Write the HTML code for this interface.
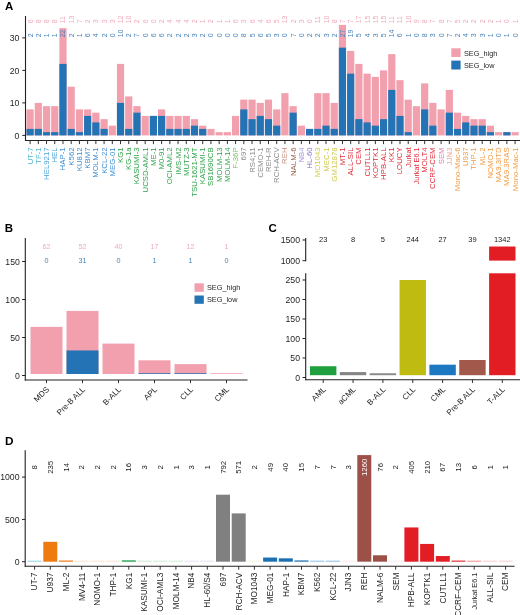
<!DOCTYPE html>
<html><head><meta charset="utf-8"><style>
html,body{margin:0;padding:0;background:#fff;}
body{width:520px;height:615px;overflow:hidden;}
svg{display:block;font-family:"Liberation Sans", sans-serif;will-change:transform;}
</style></head><body>
<svg width="520" height="615" viewBox="0 0 520 615">
<rect x="0" y="0" width="520" height="615" fill="#fff"/>
<text x="4.90" y="9.90" font-size="11.5" fill="#000" text-anchor="start" font-weight="bold">A</text>
<rect x="26.50" y="109.40" width="7.20" height="26.00" fill="#F29FAE"/>
<rect x="26.50" y="128.90" width="7.20" height="6.50" fill="#2474B5"/>
<rect x="34.72" y="102.90" width="7.20" height="32.50" fill="#F29FAE"/>
<rect x="34.72" y="128.90" width="7.20" height="6.50" fill="#2474B5"/>
<rect x="42.94" y="106.15" width="7.20" height="29.25" fill="#F29FAE"/>
<rect x="42.94" y="132.15" width="7.20" height="3.25" fill="#2474B5"/>
<rect x="51.16" y="106.15" width="7.20" height="29.25" fill="#F29FAE"/>
<rect x="51.16" y="132.15" width="7.20" height="3.25" fill="#2474B5"/>
<rect x="59.38" y="28.15" width="7.20" height="107.25" fill="#F29FAE"/>
<rect x="59.38" y="63.90" width="7.20" height="71.50" fill="#2474B5"/>
<rect x="67.60" y="86.65" width="7.20" height="48.75" fill="#F29FAE"/>
<rect x="67.60" y="128.90" width="7.20" height="6.50" fill="#2474B5"/>
<rect x="75.82" y="109.40" width="7.20" height="26.00" fill="#F29FAE"/>
<rect x="75.82" y="132.15" width="7.20" height="3.25" fill="#2474B5"/>
<rect x="84.04" y="109.40" width="7.20" height="26.00" fill="#F29FAE"/>
<rect x="84.04" y="115.90" width="7.20" height="19.50" fill="#2474B5"/>
<rect x="92.26" y="112.65" width="7.20" height="22.75" fill="#F29FAE"/>
<rect x="92.26" y="122.40" width="7.20" height="13.00" fill="#2474B5"/>
<rect x="100.48" y="119.15" width="7.20" height="16.25" fill="#F29FAE"/>
<rect x="100.48" y="128.90" width="7.20" height="6.50" fill="#2474B5"/>
<rect x="108.70" y="125.65" width="7.20" height="9.75" fill="#F29FAE"/>
<rect x="116.92" y="63.90" width="7.20" height="71.50" fill="#F29FAE"/>
<rect x="116.92" y="102.90" width="7.20" height="32.50" fill="#2474B5"/>
<rect x="125.14" y="96.40" width="7.20" height="39.00" fill="#F29FAE"/>
<rect x="125.14" y="128.90" width="7.20" height="6.50" fill="#2474B5"/>
<rect x="133.36" y="106.15" width="7.20" height="29.25" fill="#F29FAE"/>
<rect x="133.36" y="112.65" width="7.20" height="22.75" fill="#2474B5"/>
<rect x="141.58" y="115.90" width="7.20" height="19.50" fill="#F29FAE"/>
<rect x="149.80" y="115.90" width="7.20" height="19.50" fill="#F29FAE"/>
<rect x="149.80" y="115.90" width="7.20" height="19.50" fill="#2474B5"/>
<rect x="158.02" y="109.40" width="7.20" height="26.00" fill="#F29FAE"/>
<rect x="158.02" y="115.90" width="7.20" height="19.50" fill="#2474B5"/>
<rect x="166.24" y="115.90" width="7.20" height="19.50" fill="#F29FAE"/>
<rect x="166.24" y="128.90" width="7.20" height="6.50" fill="#2474B5"/>
<rect x="174.46" y="115.90" width="7.20" height="19.50" fill="#F29FAE"/>
<rect x="174.46" y="128.90" width="7.20" height="6.50" fill="#2474B5"/>
<rect x="182.68" y="115.90" width="7.20" height="19.50" fill="#F29FAE"/>
<rect x="182.68" y="128.90" width="7.20" height="6.50" fill="#2474B5"/>
<rect x="190.90" y="119.15" width="7.20" height="16.25" fill="#F29FAE"/>
<rect x="190.90" y="125.65" width="7.20" height="9.75" fill="#2474B5"/>
<rect x="199.12" y="125.65" width="7.20" height="9.75" fill="#F29FAE"/>
<rect x="199.12" y="128.90" width="7.20" height="6.50" fill="#2474B5"/>
<rect x="207.34" y="128.90" width="7.20" height="6.50" fill="#F29FAE"/>
<rect x="215.56" y="132.15" width="7.20" height="3.25" fill="#F29FAE"/>
<rect x="223.78" y="132.15" width="7.20" height="3.25" fill="#F29FAE"/>
<rect x="232.00" y="115.90" width="7.20" height="19.50" fill="#F29FAE"/>
<rect x="240.22" y="99.65" width="7.20" height="35.75" fill="#F29FAE"/>
<rect x="240.22" y="109.40" width="7.20" height="26.00" fill="#2474B5"/>
<rect x="248.44" y="99.65" width="7.20" height="35.75" fill="#F29FAE"/>
<rect x="248.44" y="119.15" width="7.20" height="16.25" fill="#2474B5"/>
<rect x="256.66" y="102.90" width="7.20" height="32.50" fill="#F29FAE"/>
<rect x="256.66" y="115.90" width="7.20" height="19.50" fill="#2474B5"/>
<rect x="264.88" y="99.65" width="7.20" height="35.75" fill="#F29FAE"/>
<rect x="264.88" y="119.15" width="7.20" height="16.25" fill="#2474B5"/>
<rect x="273.10" y="109.40" width="7.20" height="26.00" fill="#F29FAE"/>
<rect x="273.10" y="125.65" width="7.20" height="9.75" fill="#2474B5"/>
<rect x="281.32" y="93.15" width="7.20" height="42.25" fill="#F29FAE"/>
<rect x="289.54" y="106.15" width="7.20" height="29.25" fill="#F29FAE"/>
<rect x="289.54" y="112.65" width="7.20" height="22.75" fill="#2474B5"/>
<rect x="297.76" y="125.65" width="7.20" height="9.75" fill="#F29FAE"/>
<rect x="305.98" y="128.90" width="7.20" height="6.50" fill="#F29FAE"/>
<rect x="305.98" y="128.90" width="7.20" height="6.50" fill="#2474B5"/>
<rect x="314.20" y="93.15" width="7.20" height="42.25" fill="#F29FAE"/>
<rect x="314.20" y="128.90" width="7.20" height="6.50" fill="#2474B5"/>
<rect x="322.42" y="93.15" width="7.20" height="42.25" fill="#F29FAE"/>
<rect x="322.42" y="125.65" width="7.20" height="9.75" fill="#2474B5"/>
<rect x="330.64" y="102.90" width="7.20" height="32.50" fill="#F29FAE"/>
<rect x="330.64" y="128.90" width="7.20" height="6.50" fill="#2474B5"/>
<rect x="338.86" y="24.90" width="7.20" height="110.50" fill="#F29FAE"/>
<rect x="338.86" y="47.65" width="7.20" height="87.75" fill="#2474B5"/>
<rect x="347.08" y="50.90" width="7.20" height="84.50" fill="#F29FAE"/>
<rect x="347.08" y="73.65" width="7.20" height="61.75" fill="#2474B5"/>
<rect x="355.30" y="63.90" width="7.20" height="71.50" fill="#F29FAE"/>
<rect x="355.30" y="119.15" width="7.20" height="16.25" fill="#2474B5"/>
<rect x="363.52" y="73.65" width="7.20" height="61.75" fill="#F29FAE"/>
<rect x="363.52" y="122.40" width="7.20" height="13.00" fill="#2474B5"/>
<rect x="371.74" y="76.90" width="7.20" height="58.50" fill="#F29FAE"/>
<rect x="371.74" y="125.65" width="7.20" height="9.75" fill="#2474B5"/>
<rect x="379.96" y="70.40" width="7.20" height="65.00" fill="#F29FAE"/>
<rect x="379.96" y="119.15" width="7.20" height="16.25" fill="#2474B5"/>
<rect x="388.18" y="54.15" width="7.20" height="81.25" fill="#F29FAE"/>
<rect x="388.18" y="89.90" width="7.20" height="45.50" fill="#2474B5"/>
<rect x="396.40" y="80.15" width="7.20" height="55.25" fill="#F29FAE"/>
<rect x="396.40" y="115.90" width="7.20" height="19.50" fill="#2474B5"/>
<rect x="404.62" y="99.65" width="7.20" height="35.75" fill="#F29FAE"/>
<rect x="404.62" y="132.15" width="7.20" height="3.25" fill="#2474B5"/>
<rect x="412.84" y="106.15" width="7.20" height="29.25" fill="#F29FAE"/>
<rect x="421.06" y="83.40" width="7.20" height="52.00" fill="#F29FAE"/>
<rect x="421.06" y="109.40" width="7.20" height="26.00" fill="#2474B5"/>
<rect x="429.28" y="102.90" width="7.20" height="32.50" fill="#F29FAE"/>
<rect x="429.28" y="125.65" width="7.20" height="9.75" fill="#2474B5"/>
<rect x="437.50" y="109.40" width="7.20" height="26.00" fill="#F29FAE"/>
<rect x="445.72" y="89.90" width="7.20" height="45.50" fill="#F29FAE"/>
<rect x="445.72" y="112.65" width="7.20" height="22.75" fill="#2474B5"/>
<rect x="453.94" y="112.65" width="7.20" height="22.75" fill="#F29FAE"/>
<rect x="453.94" y="128.90" width="7.20" height="6.50" fill="#2474B5"/>
<rect x="462.16" y="115.90" width="7.20" height="19.50" fill="#F29FAE"/>
<rect x="462.16" y="122.40" width="7.20" height="13.00" fill="#2474B5"/>
<rect x="470.38" y="119.15" width="7.20" height="16.25" fill="#F29FAE"/>
<rect x="470.38" y="125.65" width="7.20" height="9.75" fill="#2474B5"/>
<rect x="478.60" y="119.15" width="7.20" height="16.25" fill="#F29FAE"/>
<rect x="478.60" y="125.65" width="7.20" height="9.75" fill="#2474B5"/>
<rect x="486.82" y="125.65" width="7.20" height="9.75" fill="#F29FAE"/>
<rect x="486.82" y="132.15" width="7.20" height="3.25" fill="#2474B5"/>
<rect x="495.04" y="132.15" width="7.20" height="3.25" fill="#F29FAE"/>
<rect x="503.26" y="132.15" width="7.20" height="3.25" fill="#F29FAE"/>
<rect x="503.26" y="132.15" width="7.20" height="3.25" fill="#2474B5"/>
<rect x="511.48" y="132.15" width="7.20" height="3.25" fill="#F29FAE"/>
<text x="32.60" y="23.30" font-size="7.0" fill="#F0AABA" text-anchor="start" transform="rotate(-90 32.60 23.30)">6</text>
<text x="32.60" y="37.30" font-size="7.0" fill="#4682BA" text-anchor="start" transform="rotate(-90 32.60 37.30)">2</text>
<text x="40.82" y="23.30" font-size="7.0" fill="#F0AABA" text-anchor="start" transform="rotate(-90 40.82 23.30)">8</text>
<text x="40.82" y="37.30" font-size="7.0" fill="#4682BA" text-anchor="start" transform="rotate(-90 40.82 37.30)">2</text>
<text x="49.04" y="23.30" font-size="7.0" fill="#F0AABA" text-anchor="start" transform="rotate(-90 49.04 23.30)">8</text>
<text x="49.04" y="37.30" font-size="7.0" fill="#4682BA" text-anchor="start" transform="rotate(-90 49.04 37.30)">1</text>
<text x="57.26" y="23.30" font-size="7.0" fill="#F0AABA" text-anchor="start" transform="rotate(-90 57.26 23.30)">8</text>
<text x="57.26" y="37.30" font-size="7.0" fill="#4682BA" text-anchor="start" transform="rotate(-90 57.26 37.30)">1</text>
<text x="65.48" y="23.30" font-size="7.0" fill="#F0AABA" text-anchor="start" transform="rotate(-90 65.48 23.30)">11</text>
<text x="65.48" y="37.30" font-size="7.0" fill="#4682BA" text-anchor="start" transform="rotate(-90 65.48 37.30)">22</text>
<text x="73.70" y="23.30" font-size="7.0" fill="#F0AABA" text-anchor="start" transform="rotate(-90 73.70 23.30)">13</text>
<text x="73.70" y="37.30" font-size="7.0" fill="#4682BA" text-anchor="start" transform="rotate(-90 73.70 37.30)">2</text>
<text x="81.92" y="23.30" font-size="7.0" fill="#F0AABA" text-anchor="start" transform="rotate(-90 81.92 23.30)">7</text>
<text x="81.92" y="37.30" font-size="7.0" fill="#4682BA" text-anchor="start" transform="rotate(-90 81.92 37.30)">1</text>
<text x="90.14" y="23.30" font-size="7.0" fill="#F0AABA" text-anchor="start" transform="rotate(-90 90.14 23.30)">2</text>
<text x="90.14" y="37.30" font-size="7.0" fill="#4682BA" text-anchor="start" transform="rotate(-90 90.14 37.30)">6</text>
<text x="98.36" y="23.30" font-size="7.0" fill="#F0AABA" text-anchor="start" transform="rotate(-90 98.36 23.30)">3</text>
<text x="98.36" y="37.30" font-size="7.0" fill="#4682BA" text-anchor="start" transform="rotate(-90 98.36 37.30)">4</text>
<text x="106.58" y="23.30" font-size="7.0" fill="#F0AABA" text-anchor="start" transform="rotate(-90 106.58 23.30)">3</text>
<text x="106.58" y="37.30" font-size="7.0" fill="#4682BA" text-anchor="start" transform="rotate(-90 106.58 37.30)">2</text>
<text x="114.80" y="23.30" font-size="7.0" fill="#F0AABA" text-anchor="start" transform="rotate(-90 114.80 23.30)">3</text>
<text x="114.80" y="37.30" font-size="7.0" fill="#4682BA" text-anchor="start" transform="rotate(-90 114.80 37.30)">0</text>
<text x="123.02" y="23.30" font-size="7.0" fill="#F0AABA" text-anchor="start" transform="rotate(-90 123.02 23.30)">12</text>
<text x="123.02" y="37.30" font-size="7.0" fill="#4682BA" text-anchor="start" transform="rotate(-90 123.02 37.30)">10</text>
<text x="131.24" y="23.30" font-size="7.0" fill="#F0AABA" text-anchor="start" transform="rotate(-90 131.24 23.30)">10</text>
<text x="131.24" y="37.30" font-size="7.0" fill="#4682BA" text-anchor="start" transform="rotate(-90 131.24 37.30)">2</text>
<text x="139.46" y="23.30" font-size="7.0" fill="#F0AABA" text-anchor="start" transform="rotate(-90 139.46 23.30)">2</text>
<text x="139.46" y="37.30" font-size="7.0" fill="#4682BA" text-anchor="start" transform="rotate(-90 139.46 37.30)">7</text>
<text x="147.68" y="23.30" font-size="7.0" fill="#F0AABA" text-anchor="start" transform="rotate(-90 147.68 23.30)">6</text>
<text x="147.68" y="37.30" font-size="7.0" fill="#4682BA" text-anchor="start" transform="rotate(-90 147.68 37.30)">0</text>
<text x="155.90" y="23.30" font-size="7.0" fill="#F0AABA" text-anchor="start" transform="rotate(-90 155.90 23.30)">0</text>
<text x="155.90" y="37.30" font-size="7.0" fill="#4682BA" text-anchor="start" transform="rotate(-90 155.90 37.30)">6</text>
<text x="164.12" y="23.30" font-size="7.0" fill="#F0AABA" text-anchor="start" transform="rotate(-90 164.12 23.30)">2</text>
<text x="164.12" y="37.30" font-size="7.0" fill="#4682BA" text-anchor="start" transform="rotate(-90 164.12 37.30)">6</text>
<text x="172.34" y="23.30" font-size="7.0" fill="#F0AABA" text-anchor="start" transform="rotate(-90 172.34 23.30)">4</text>
<text x="172.34" y="37.30" font-size="7.0" fill="#4682BA" text-anchor="start" transform="rotate(-90 172.34 37.30)">2</text>
<text x="180.56" y="23.30" font-size="7.0" fill="#F0AABA" text-anchor="start" transform="rotate(-90 180.56 23.30)">4</text>
<text x="180.56" y="37.30" font-size="7.0" fill="#4682BA" text-anchor="start" transform="rotate(-90 180.56 37.30)">2</text>
<text x="188.78" y="23.30" font-size="7.0" fill="#F0AABA" text-anchor="start" transform="rotate(-90 188.78 23.30)">4</text>
<text x="188.78" y="37.30" font-size="7.0" fill="#4682BA" text-anchor="start" transform="rotate(-90 188.78 37.30)">2</text>
<text x="197.00" y="23.30" font-size="7.0" fill="#F0AABA" text-anchor="start" transform="rotate(-90 197.00 23.30)">2</text>
<text x="197.00" y="37.30" font-size="7.0" fill="#4682BA" text-anchor="start" transform="rotate(-90 197.00 37.30)">3</text>
<text x="205.22" y="23.30" font-size="7.0" fill="#F0AABA" text-anchor="start" transform="rotate(-90 205.22 23.30)">1</text>
<text x="205.22" y="37.30" font-size="7.0" fill="#4682BA" text-anchor="start" transform="rotate(-90 205.22 37.30)">2</text>
<text x="213.44" y="23.30" font-size="7.0" fill="#F0AABA" text-anchor="start" transform="rotate(-90 213.44 23.30)">2</text>
<text x="213.44" y="37.30" font-size="7.0" fill="#4682BA" text-anchor="start" transform="rotate(-90 213.44 37.30)">0</text>
<text x="221.66" y="23.30" font-size="7.0" fill="#F0AABA" text-anchor="start" transform="rotate(-90 221.66 23.30)">1</text>
<text x="221.66" y="37.30" font-size="7.0" fill="#4682BA" text-anchor="start" transform="rotate(-90 221.66 37.30)">0</text>
<text x="229.88" y="23.30" font-size="7.0" fill="#F0AABA" text-anchor="start" transform="rotate(-90 229.88 23.30)">1</text>
<text x="229.88" y="37.30" font-size="7.0" fill="#4682BA" text-anchor="start" transform="rotate(-90 229.88 37.30)">0</text>
<text x="238.10" y="23.30" font-size="7.0" fill="#F0AABA" text-anchor="start" transform="rotate(-90 238.10 23.30)">6</text>
<text x="238.10" y="37.30" font-size="7.0" fill="#4682BA" text-anchor="start" transform="rotate(-90 238.10 37.30)">0</text>
<text x="246.32" y="23.30" font-size="7.0" fill="#F0AABA" text-anchor="start" transform="rotate(-90 246.32 23.30)">3</text>
<text x="246.32" y="37.30" font-size="7.0" fill="#4682BA" text-anchor="start" transform="rotate(-90 246.32 37.30)">8</text>
<text x="254.54" y="23.30" font-size="7.0" fill="#F0AABA" text-anchor="start" transform="rotate(-90 254.54 23.30)">6</text>
<text x="254.54" y="37.30" font-size="7.0" fill="#4682BA" text-anchor="start" transform="rotate(-90 254.54 37.30)">5</text>
<text x="262.76" y="23.30" font-size="7.0" fill="#F0AABA" text-anchor="start" transform="rotate(-90 262.76 23.30)">4</text>
<text x="262.76" y="37.30" font-size="7.0" fill="#4682BA" text-anchor="start" transform="rotate(-90 262.76 37.30)">6</text>
<text x="270.98" y="23.30" font-size="7.0" fill="#F0AABA" text-anchor="start" transform="rotate(-90 270.98 23.30)">6</text>
<text x="270.98" y="37.30" font-size="7.0" fill="#4682BA" text-anchor="start" transform="rotate(-90 270.98 37.30)">5</text>
<text x="279.20" y="23.30" font-size="7.0" fill="#F0AABA" text-anchor="start" transform="rotate(-90 279.20 23.30)">5</text>
<text x="279.20" y="37.30" font-size="7.0" fill="#4682BA" text-anchor="start" transform="rotate(-90 279.20 37.30)">3</text>
<text x="287.42" y="23.30" font-size="7.0" fill="#F0AABA" text-anchor="start" transform="rotate(-90 287.42 23.30)">13</text>
<text x="287.42" y="37.30" font-size="7.0" fill="#4682BA" text-anchor="start" transform="rotate(-90 287.42 37.30)">0</text>
<text x="295.64" y="23.30" font-size="7.0" fill="#F0AABA" text-anchor="start" transform="rotate(-90 295.64 23.30)">2</text>
<text x="295.64" y="37.30" font-size="7.0" fill="#4682BA" text-anchor="start" transform="rotate(-90 295.64 37.30)">7</text>
<text x="303.86" y="23.30" font-size="7.0" fill="#F0AABA" text-anchor="start" transform="rotate(-90 303.86 23.30)">3</text>
<text x="303.86" y="37.30" font-size="7.0" fill="#4682BA" text-anchor="start" transform="rotate(-90 303.86 37.30)">0</text>
<text x="312.08" y="23.30" font-size="7.0" fill="#F0AABA" text-anchor="start" transform="rotate(-90 312.08 23.30)">0</text>
<text x="312.08" y="37.30" font-size="7.0" fill="#4682BA" text-anchor="start" transform="rotate(-90 312.08 37.30)">2</text>
<text x="320.30" y="23.30" font-size="7.0" fill="#F0AABA" text-anchor="start" transform="rotate(-90 320.30 23.30)">11</text>
<text x="320.30" y="37.30" font-size="7.0" fill="#4682BA" text-anchor="start" transform="rotate(-90 320.30 37.30)">2</text>
<text x="328.52" y="23.30" font-size="7.0" fill="#F0AABA" text-anchor="start" transform="rotate(-90 328.52 23.30)">10</text>
<text x="328.52" y="37.30" font-size="7.0" fill="#4682BA" text-anchor="start" transform="rotate(-90 328.52 37.30)">3</text>
<text x="336.74" y="23.30" font-size="7.0" fill="#F0AABA" text-anchor="start" transform="rotate(-90 336.74 23.30)">8</text>
<text x="336.74" y="37.30" font-size="7.0" fill="#4682BA" text-anchor="start" transform="rotate(-90 336.74 37.30)">2</text>
<text x="344.96" y="23.30" font-size="7.0" fill="#F0AABA" text-anchor="start" transform="rotate(-90 344.96 23.30)">7</text>
<text x="344.96" y="37.30" font-size="7.0" fill="#4682BA" text-anchor="start" transform="rotate(-90 344.96 37.30)">27</text>
<text x="353.18" y="23.30" font-size="7.0" fill="#F0AABA" text-anchor="start" transform="rotate(-90 353.18 23.30)">7</text>
<text x="353.18" y="37.30" font-size="7.0" fill="#4682BA" text-anchor="start" transform="rotate(-90 353.18 37.30)">19</text>
<text x="361.40" y="23.30" font-size="7.0" fill="#F0AABA" text-anchor="start" transform="rotate(-90 361.40 23.30)">17</text>
<text x="361.40" y="37.30" font-size="7.0" fill="#4682BA" text-anchor="start" transform="rotate(-90 361.40 37.30)">5</text>
<text x="369.62" y="23.30" font-size="7.0" fill="#F0AABA" text-anchor="start" transform="rotate(-90 369.62 23.30)">15</text>
<text x="369.62" y="37.30" font-size="7.0" fill="#4682BA" text-anchor="start" transform="rotate(-90 369.62 37.30)">4</text>
<text x="377.84" y="23.30" font-size="7.0" fill="#F0AABA" text-anchor="start" transform="rotate(-90 377.84 23.30)">15</text>
<text x="377.84" y="37.30" font-size="7.0" fill="#4682BA" text-anchor="start" transform="rotate(-90 377.84 37.30)">3</text>
<text x="386.06" y="23.30" font-size="7.0" fill="#F0AABA" text-anchor="start" transform="rotate(-90 386.06 23.30)">15</text>
<text x="386.06" y="37.30" font-size="7.0" fill="#4682BA" text-anchor="start" transform="rotate(-90 386.06 37.30)">5</text>
<text x="394.28" y="23.30" font-size="7.0" fill="#F0AABA" text-anchor="start" transform="rotate(-90 394.28 23.30)">11</text>
<text x="394.28" y="37.30" font-size="7.0" fill="#4682BA" text-anchor="start" transform="rotate(-90 394.28 37.30)">14</text>
<text x="402.50" y="23.30" font-size="7.0" fill="#F0AABA" text-anchor="start" transform="rotate(-90 402.50 23.30)">11</text>
<text x="402.50" y="37.30" font-size="7.0" fill="#4682BA" text-anchor="start" transform="rotate(-90 402.50 37.30)">6</text>
<text x="410.72" y="23.30" font-size="7.0" fill="#F0AABA" text-anchor="start" transform="rotate(-90 410.72 23.30)">10</text>
<text x="410.72" y="37.30" font-size="7.0" fill="#4682BA" text-anchor="start" transform="rotate(-90 410.72 37.30)">1</text>
<text x="418.94" y="23.30" font-size="7.0" fill="#F0AABA" text-anchor="start" transform="rotate(-90 418.94 23.30)">9</text>
<text x="418.94" y="37.30" font-size="7.0" fill="#4682BA" text-anchor="start" transform="rotate(-90 418.94 37.30)">0</text>
<text x="427.16" y="23.30" font-size="7.0" fill="#F0AABA" text-anchor="start" transform="rotate(-90 427.16 23.30)">8</text>
<text x="427.16" y="37.30" font-size="7.0" fill="#4682BA" text-anchor="start" transform="rotate(-90 427.16 37.30)">8</text>
<text x="435.38" y="23.30" font-size="7.0" fill="#F0AABA" text-anchor="start" transform="rotate(-90 435.38 23.30)">7</text>
<text x="435.38" y="37.30" font-size="7.0" fill="#4682BA" text-anchor="start" transform="rotate(-90 435.38 37.30)">3</text>
<text x="443.60" y="23.30" font-size="7.0" fill="#F0AABA" text-anchor="start" transform="rotate(-90 443.60 23.30)">8</text>
<text x="443.60" y="37.30" font-size="7.0" fill="#4682BA" text-anchor="start" transform="rotate(-90 443.60 37.30)">0</text>
<text x="451.82" y="23.30" font-size="7.0" fill="#F0AABA" text-anchor="start" transform="rotate(-90 451.82 23.30)">7</text>
<text x="451.82" y="37.30" font-size="7.0" fill="#4682BA" text-anchor="start" transform="rotate(-90 451.82 37.30)">7</text>
<text x="460.04" y="23.30" font-size="7.0" fill="#F0AABA" text-anchor="start" transform="rotate(-90 460.04 23.30)">5</text>
<text x="460.04" y="37.30" font-size="7.0" fill="#4682BA" text-anchor="start" transform="rotate(-90 460.04 37.30)">2</text>
<text x="468.26" y="23.30" font-size="7.0" fill="#F0AABA" text-anchor="start" transform="rotate(-90 468.26 23.30)">2</text>
<text x="468.26" y="37.30" font-size="7.0" fill="#4682BA" text-anchor="start" transform="rotate(-90 468.26 37.30)">4</text>
<text x="476.48" y="23.30" font-size="7.0" fill="#F0AABA" text-anchor="start" transform="rotate(-90 476.48 23.30)">2</text>
<text x="476.48" y="37.30" font-size="7.0" fill="#4682BA" text-anchor="start" transform="rotate(-90 476.48 37.30)">3</text>
<text x="484.70" y="23.30" font-size="7.0" fill="#F0AABA" text-anchor="start" transform="rotate(-90 484.70 23.30)">2</text>
<text x="484.70" y="37.30" font-size="7.0" fill="#4682BA" text-anchor="start" transform="rotate(-90 484.70 37.30)">3</text>
<text x="492.92" y="23.30" font-size="7.0" fill="#F0AABA" text-anchor="start" transform="rotate(-90 492.92 23.30)">2</text>
<text x="492.92" y="37.30" font-size="7.0" fill="#4682BA" text-anchor="start" transform="rotate(-90 492.92 37.30)">1</text>
<text x="501.14" y="23.30" font-size="7.0" fill="#F0AABA" text-anchor="start" transform="rotate(-90 501.14 23.30)">1</text>
<text x="501.14" y="37.30" font-size="7.0" fill="#4682BA" text-anchor="start" transform="rotate(-90 501.14 37.30)">0</text>
<text x="509.36" y="23.30" font-size="7.0" fill="#F0AABA" text-anchor="start" transform="rotate(-90 509.36 23.30)">0</text>
<text x="509.36" y="37.30" font-size="7.0" fill="#4682BA" text-anchor="start" transform="rotate(-90 509.36 37.30)">1</text>
<text x="517.58" y="23.30" font-size="7.0" fill="#F0AABA" text-anchor="start" transform="rotate(-90 517.58 23.30)">1</text>
<text x="517.58" y="37.30" font-size="7.0" fill="#4682BA" text-anchor="start" transform="rotate(-90 517.58 37.30)">0</text>
<line x1="25.50" y1="16.00" x2="25.50" y2="141.00" stroke="#222" stroke-width="1.1"/>
<line x1="25.00" y1="140.50" x2="520.00" y2="140.50" stroke="#222" stroke-width="1.1"/>
<line x1="22.30" y1="135.40" x2="25.50" y2="135.40" stroke="#222" stroke-width="1.0"/>
<text x="19.30" y="138.50" font-size="8.7" fill="#262626" text-anchor="end">0</text>
<line x1="22.30" y1="102.90" x2="25.50" y2="102.90" stroke="#222" stroke-width="1.0"/>
<text x="19.30" y="106.00" font-size="8.7" fill="#262626" text-anchor="end">10</text>
<line x1="22.30" y1="70.40" x2="25.50" y2="70.40" stroke="#222" stroke-width="1.0"/>
<text x="19.30" y="73.50" font-size="8.7" fill="#262626" text-anchor="end">20</text>
<line x1="22.30" y1="37.90" x2="25.50" y2="37.90" stroke="#222" stroke-width="1.0"/>
<text x="19.30" y="41.00" font-size="8.7" fill="#262626" text-anchor="end">30</text>
<line x1="30.10" y1="140.50" x2="30.10" y2="144.10" stroke="#333" stroke-width="1.0"/>
<text x="32.60" y="147.40" font-size="7.8" fill="#4DB8D2" text-anchor="end" transform="rotate(-90 32.60 147.40)">UT-7</text>
<line x1="38.32" y1="140.50" x2="38.32" y2="144.10" stroke="#333" stroke-width="1.0"/>
<text x="40.82" y="147.40" font-size="7.8" fill="#4DB8D2" text-anchor="end" transform="rotate(-90 40.82 147.40)">TF-1</text>
<line x1="46.54" y1="140.50" x2="46.54" y2="144.10" stroke="#333" stroke-width="1.0"/>
<text x="49.04" y="147.40" font-size="7.8" fill="#4AA4DA" text-anchor="end" transform="rotate(-90 49.04 147.40)">HEL9217</text>
<line x1="54.76" y1="140.50" x2="54.76" y2="144.10" stroke="#333" stroke-width="1.0"/>
<text x="57.26" y="147.40" font-size="7.8" fill="#4AA4DA" text-anchor="end" transform="rotate(-90 57.26 147.40)">HEL</text>
<line x1="62.98" y1="140.50" x2="62.98" y2="144.10" stroke="#333" stroke-width="1.0"/>
<text x="65.48" y="147.40" font-size="7.8" fill="#3A8ED4" text-anchor="end" transform="rotate(-90 65.48 147.40)">HAP-1</text>
<line x1="71.20" y1="140.50" x2="71.20" y2="144.10" stroke="#333" stroke-width="1.0"/>
<text x="73.70" y="147.40" font-size="7.8" fill="#3A8ED4" text-anchor="end" transform="rotate(-90 73.70 147.40)">K562</text>
<line x1="79.42" y1="140.50" x2="79.42" y2="144.10" stroke="#333" stroke-width="1.0"/>
<text x="81.92" y="147.40" font-size="7.8" fill="#3A8ED4" text-anchor="end" transform="rotate(-90 81.92 147.40)">KU812</text>
<line x1="87.64" y1="140.50" x2="87.64" y2="144.10" stroke="#333" stroke-width="1.0"/>
<text x="90.14" y="147.40" font-size="7.8" fill="#3A8ED4" text-anchor="end" transform="rotate(-90 90.14 147.40)">KBM7</text>
<line x1="95.86" y1="140.50" x2="95.86" y2="144.10" stroke="#333" stroke-width="1.0"/>
<text x="98.36" y="147.40" font-size="7.8" fill="#3A8ED4" text-anchor="end" transform="rotate(-90 98.36 147.40)">MOLM-1</text>
<line x1="104.08" y1="140.50" x2="104.08" y2="144.10" stroke="#333" stroke-width="1.0"/>
<text x="106.58" y="147.40" font-size="7.8" fill="#3A8ED4" text-anchor="end" transform="rotate(-90 106.58 147.40)">KCL-22</text>
<line x1="112.30" y1="140.50" x2="112.30" y2="144.10" stroke="#333" stroke-width="1.0"/>
<text x="114.80" y="147.40" font-size="7.8" fill="#3A8ED4" text-anchor="end" transform="rotate(-90 114.80 147.40)">MEG-01</text>
<line x1="120.52" y1="140.50" x2="120.52" y2="144.10" stroke="#333" stroke-width="1.0"/>
<text x="123.02" y="147.40" font-size="7.8" fill="#2EA24A" text-anchor="end" transform="rotate(-90 123.02 147.40)">KG1</text>
<line x1="128.74" y1="140.50" x2="128.74" y2="144.10" stroke="#333" stroke-width="1.0"/>
<text x="131.24" y="147.40" font-size="7.8" fill="#2EA24A" text-anchor="end" transform="rotate(-90 131.24 147.40)">KG-1a</text>
<line x1="136.96" y1="140.50" x2="136.96" y2="144.10" stroke="#333" stroke-width="1.0"/>
<text x="139.46" y="147.40" font-size="7.8" fill="#2EA24A" text-anchor="end" transform="rotate(-90 139.46 147.40)">KASUMI-3</text>
<line x1="145.18" y1="140.50" x2="145.18" y2="144.10" stroke="#333" stroke-width="1.0"/>
<text x="147.68" y="147.40" font-size="7.8" fill="#2EA24A" text-anchor="end" transform="rotate(-90 147.68 147.40)">UCSD-AML1</text>
<line x1="153.40" y1="140.50" x2="153.40" y2="144.10" stroke="#333" stroke-width="1.0"/>
<text x="155.90" y="147.40" font-size="7.8" fill="#2EA24A" text-anchor="end" transform="rotate(-90 155.90 147.40)">ME-1</text>
<line x1="161.62" y1="140.50" x2="161.62" y2="144.10" stroke="#333" stroke-width="1.0"/>
<text x="164.12" y="147.40" font-size="7.8" fill="#2EA24A" text-anchor="end" transform="rotate(-90 164.12 147.40)">M0-91</text>
<line x1="169.84" y1="140.50" x2="169.84" y2="144.10" stroke="#333" stroke-width="1.0"/>
<text x="172.34" y="147.40" font-size="7.8" fill="#2EA24A" text-anchor="end" transform="rotate(-90 172.34 147.40)">OCI-AML2</text>
<line x1="178.06" y1="140.50" x2="178.06" y2="144.10" stroke="#333" stroke-width="1.0"/>
<text x="180.56" y="147.40" font-size="7.8" fill="#2EA24A" text-anchor="end" transform="rotate(-90 180.56 147.40)">IMS-M2</text>
<line x1="186.28" y1="140.50" x2="186.28" y2="144.10" stroke="#333" stroke-width="1.0"/>
<text x="188.78" y="147.40" font-size="7.8" fill="#2EA24A" text-anchor="end" transform="rotate(-90 188.78 147.40)">MUTZ-3</text>
<line x1="194.50" y1="140.50" x2="194.50" y2="144.10" stroke="#333" stroke-width="1.0"/>
<text x="197.00" y="147.40" font-size="7.8" fill="#2EA24A" text-anchor="end" transform="rotate(-90 197.00 147.40)">TSU-1621-MT</text>
<line x1="202.72" y1="140.50" x2="202.72" y2="144.10" stroke="#333" stroke-width="1.0"/>
<text x="205.22" y="147.40" font-size="7.8" fill="#2EA24A" text-anchor="end" transform="rotate(-90 205.22 147.40)">KASUMI-1</text>
<line x1="210.94" y1="140.50" x2="210.94" y2="144.10" stroke="#333" stroke-width="1.0"/>
<text x="213.44" y="147.40" font-size="7.8" fill="#2EA24A" text-anchor="end" transform="rotate(-90 213.44 147.40)">SB1690CB</text>
<line x1="219.16" y1="140.50" x2="219.16" y2="144.10" stroke="#333" stroke-width="1.0"/>
<text x="221.66" y="147.40" font-size="7.8" fill="#2EA24A" text-anchor="end" transform="rotate(-90 221.66 147.40)">MOLM-13</text>
<line x1="227.38" y1="140.50" x2="227.38" y2="144.10" stroke="#333" stroke-width="1.0"/>
<text x="229.88" y="147.40" font-size="7.8" fill="#2EA24A" text-anchor="end" transform="rotate(-90 229.88 147.40)">MOLM-14</text>
<line x1="235.60" y1="140.50" x2="235.60" y2="144.10" stroke="#333" stroke-width="1.0"/>
<text x="238.10" y="147.40" font-size="7.8" fill="#7CC464" text-anchor="end" transform="rotate(-90 238.10 147.40)">F-36P</text>
<line x1="243.82" y1="140.50" x2="243.82" y2="144.10" stroke="#333" stroke-width="1.0"/>
<text x="246.32" y="147.40" font-size="7.8" fill="#8A8A8A" text-anchor="end" transform="rotate(-90 246.32 147.40)">697</text>
<line x1="252.04" y1="140.50" x2="252.04" y2="144.10" stroke="#333" stroke-width="1.0"/>
<text x="254.54" y="147.40" font-size="7.8" fill="#8A8A8A" text-anchor="end" transform="rotate(-90 254.54 147.40)">RS4;11</text>
<line x1="260.26" y1="140.50" x2="260.26" y2="144.10" stroke="#333" stroke-width="1.0"/>
<text x="262.76" y="147.40" font-size="7.8" fill="#8A8A8A" text-anchor="end" transform="rotate(-90 262.76 147.40)">CEMO-1</text>
<line x1="268.48" y1="140.50" x2="268.48" y2="144.10" stroke="#333" stroke-width="1.0"/>
<text x="270.98" y="147.40" font-size="7.8" fill="#8A8A8A" text-anchor="end" transform="rotate(-90 270.98 147.40)">REH-R</text>
<line x1="276.70" y1="140.50" x2="276.70" y2="144.10" stroke="#333" stroke-width="1.0"/>
<text x="279.20" y="147.40" font-size="7.8" fill="#8A8A8A" text-anchor="end" transform="rotate(-90 279.20 147.40)">RCH-ACV</text>
<line x1="284.92" y1="140.50" x2="284.92" y2="144.10" stroke="#333" stroke-width="1.0"/>
<text x="287.42" y="147.40" font-size="7.8" fill="#C98E7C" text-anchor="end" transform="rotate(-90 287.42 147.40)">REH</text>
<line x1="293.14" y1="140.50" x2="293.14" y2="144.10" stroke="#333" stroke-width="1.0"/>
<text x="295.64" y="147.40" font-size="7.8" fill="#9A6248" text-anchor="end" transform="rotate(-90 295.64 147.40)">NALM-6</text>
<line x1="301.36" y1="140.50" x2="301.36" y2="144.10" stroke="#333" stroke-width="1.0"/>
<text x="303.86" y="147.40" font-size="7.8" fill="#A896DC" text-anchor="end" transform="rotate(-90 303.86 147.40)">NB4</text>
<line x1="309.58" y1="140.50" x2="309.58" y2="144.10" stroke="#333" stroke-width="1.0"/>
<text x="312.08" y="147.40" font-size="7.8" fill="#8C74CC" text-anchor="end" transform="rotate(-90 312.08 147.40)">HL-60</text>
<line x1="317.80" y1="140.50" x2="317.80" y2="144.10" stroke="#333" stroke-width="1.0"/>
<text x="320.30" y="147.40" font-size="7.8" fill="#CFCB4C" text-anchor="end" transform="rotate(-90 320.30 147.40)">MO1043</text>
<line x1="326.02" y1="140.50" x2="326.02" y2="144.10" stroke="#333" stroke-width="1.0"/>
<text x="328.52" y="147.40" font-size="7.8" fill="#CFCB4C" text-anchor="end" transform="rotate(-90 328.52 147.40)">MEC-1</text>
<line x1="334.24" y1="140.50" x2="334.24" y2="144.10" stroke="#333" stroke-width="1.0"/>
<text x="336.74" y="147.40" font-size="7.8" fill="#CFCB4C" text-anchor="end" transform="rotate(-90 336.74 147.40)">GM12878</text>
<line x1="342.46" y1="140.50" x2="342.46" y2="144.10" stroke="#333" stroke-width="1.0"/>
<text x="344.96" y="147.40" font-size="7.8" fill="#E02A36" text-anchor="end" transform="rotate(-90 344.96 147.40)">MT-1</text>
<line x1="350.68" y1="140.50" x2="350.68" y2="144.10" stroke="#333" stroke-width="1.0"/>
<text x="353.18" y="147.40" font-size="7.8" fill="#E02A36" text-anchor="end" transform="rotate(-90 353.18 147.40)">ALL-SIL</text>
<line x1="358.90" y1="140.50" x2="358.90" y2="144.10" stroke="#333" stroke-width="1.0"/>
<text x="361.40" y="147.40" font-size="7.8" fill="#E02A36" text-anchor="end" transform="rotate(-90 361.40 147.40)">CEM</text>
<line x1="367.12" y1="140.50" x2="367.12" y2="144.10" stroke="#333" stroke-width="1.0"/>
<text x="369.62" y="147.40" font-size="7.8" fill="#E02A36" text-anchor="end" transform="rotate(-90 369.62 147.40)">CUTLL1</text>
<line x1="375.34" y1="140.50" x2="375.34" y2="144.10" stroke="#333" stroke-width="1.0"/>
<text x="377.84" y="147.40" font-size="7.8" fill="#E02A36" text-anchor="end" transform="rotate(-90 377.84 147.40)">KOPTK1</text>
<line x1="383.56" y1="140.50" x2="383.56" y2="144.10" stroke="#333" stroke-width="1.0"/>
<text x="386.06" y="147.40" font-size="7.8" fill="#E02A36" text-anchor="end" transform="rotate(-90 386.06 147.40)">HPB-ALL</text>
<line x1="391.78" y1="140.50" x2="391.78" y2="144.10" stroke="#333" stroke-width="1.0"/>
<text x="394.28" y="147.40" font-size="7.8" fill="#E02A36" text-anchor="end" transform="rotate(-90 394.28 147.40)">KK1</text>
<line x1="400.00" y1="140.50" x2="400.00" y2="144.10" stroke="#333" stroke-width="1.0"/>
<text x="402.50" y="147.40" font-size="7.8" fill="#E02A36" text-anchor="end" transform="rotate(-90 402.50 147.40)">LOUCY</text>
<line x1="408.22" y1="140.50" x2="408.22" y2="144.10" stroke="#333" stroke-width="1.0"/>
<text x="410.72" y="147.40" font-size="7.3" fill="#E02A36" text-anchor="end" transform="rotate(-90 410.72 147.40)">Jurkat</text>
<line x1="416.44" y1="140.50" x2="416.44" y2="144.10" stroke="#333" stroke-width="1.0"/>
<text x="418.94" y="147.40" font-size="7.3" fill="#E02A36" text-anchor="end" transform="rotate(-90 418.94 147.40)">Jurkat E6.1</text>
<line x1="424.66" y1="140.50" x2="424.66" y2="144.10" stroke="#333" stroke-width="1.0"/>
<text x="427.16" y="147.40" font-size="7.8" fill="#E02A36" text-anchor="end" transform="rotate(-90 427.16 147.40)">MOLT4</text>
<line x1="432.88" y1="140.50" x2="432.88" y2="144.10" stroke="#333" stroke-width="1.0"/>
<text x="435.38" y="147.40" font-size="7.8" fill="#E02A36" text-anchor="end" transform="rotate(-90 435.38 147.40)">CCRF-CEM</text>
<line x1="441.10" y1="140.50" x2="441.10" y2="144.10" stroke="#333" stroke-width="1.0"/>
<text x="443.60" y="147.40" font-size="7.8" fill="#DD80B6" text-anchor="end" transform="rotate(-90 443.60 147.40)">SEM</text>
<line x1="449.32" y1="140.50" x2="449.32" y2="144.10" stroke="#333" stroke-width="1.0"/>
<text x="451.82" y="147.40" font-size="7.8" fill="#F0A89E" text-anchor="end" transform="rotate(-90 451.82 147.40)">JJN3</text>
<line x1="457.54" y1="140.50" x2="457.54" y2="144.10" stroke="#333" stroke-width="1.0"/>
<text x="460.04" y="147.40" font-size="7.8" fill="#F29A40" text-anchor="end" transform="rotate(-90 460.04 147.40)">Mono-Mac-6</text>
<line x1="465.76" y1="140.50" x2="465.76" y2="144.10" stroke="#333" stroke-width="1.0"/>
<text x="468.26" y="147.40" font-size="7.8" fill="#F29A40" text-anchor="end" transform="rotate(-90 468.26 147.40)">U937</text>
<line x1="473.98" y1="140.50" x2="473.98" y2="144.10" stroke="#333" stroke-width="1.0"/>
<text x="476.48" y="147.40" font-size="7.8" fill="#F29A40" text-anchor="end" transform="rotate(-90 476.48 147.40)">THP-1</text>
<line x1="482.20" y1="140.50" x2="482.20" y2="144.10" stroke="#333" stroke-width="1.0"/>
<text x="484.70" y="147.40" font-size="7.8" fill="#F29A40" text-anchor="end" transform="rotate(-90 484.70 147.40)">ML-2</text>
<line x1="490.42" y1="140.50" x2="490.42" y2="144.10" stroke="#333" stroke-width="1.0"/>
<text x="492.92" y="147.40" font-size="7.8" fill="#F29A40" text-anchor="end" transform="rotate(-90 492.92 147.40)">NOMO-1</text>
<line x1="498.64" y1="140.50" x2="498.64" y2="144.10" stroke="#333" stroke-width="1.0"/>
<text x="501.14" y="147.40" font-size="7.8" fill="#F29A40" text-anchor="end" transform="rotate(-90 501.14 147.40)">MA9.3ITD</text>
<line x1="506.86" y1="140.50" x2="506.86" y2="144.10" stroke="#333" stroke-width="1.0"/>
<text x="509.36" y="147.40" font-size="7.8" fill="#F29A40" text-anchor="end" transform="rotate(-90 509.36 147.40)">MA9.3RAS</text>
<line x1="515.08" y1="140.50" x2="515.08" y2="144.10" stroke="#333" stroke-width="1.0"/>
<text x="517.58" y="147.40" font-size="7.8" fill="#F29A40" text-anchor="end" transform="rotate(-90 517.58 147.40)">Mono-Mac-1</text>
<rect x="451.30" y="48.30" width="9.30" height="8.70" fill="#F29FAE"/>
<rect x="451.30" y="60.60" width="9.30" height="8.90" fill="#2474B5"/>
<text x="464.00" y="55.60" font-size="7.3" fill="#262626" text-anchor="start">SEG_high</text>
<text x="464.00" y="67.80" font-size="7.3" fill="#262626" text-anchor="start">SEG_low</text>
<text x="4.80" y="232.00" font-size="11.5" fill="#000" text-anchor="start" font-weight="bold">B</text>
<rect x="30.50" y="326.88" width="32.00" height="47.12" fill="#F29FAE"/>
<text x="46.50" y="249.00" font-size="7.2" fill="#F0AABA" text-anchor="middle">62</text>
<text x="46.50" y="263.30" font-size="7.2" fill="#4682BA" text-anchor="middle">0</text>
<line x1="46.50" y1="380.00" x2="46.50" y2="383.20" stroke="#333" stroke-width="1.0"/>
<text x="49.70" y="390.00" font-size="8.0" fill="#262626" text-anchor="end" transform="rotate(-45 49.70 390.00)">MDS</text>
<rect x="66.50" y="310.92" width="32.00" height="63.08" fill="#F29FAE"/>
<rect x="66.50" y="350.44" width="32.00" height="23.56" fill="#2474B5"/>
<text x="82.50" y="249.00" font-size="7.2" fill="#F0AABA" text-anchor="middle">52</text>
<text x="82.50" y="263.30" font-size="7.2" fill="#4682BA" text-anchor="middle">31</text>
<line x1="82.50" y1="380.00" x2="82.50" y2="383.20" stroke="#333" stroke-width="1.0"/>
<text x="85.70" y="390.00" font-size="8.0" fill="#262626" text-anchor="end" transform="rotate(-45 85.70 390.00)">Pre-B ALL</text>
<rect x="102.50" y="343.60" width="32.00" height="30.40" fill="#F29FAE"/>
<text x="118.50" y="249.00" font-size="7.2" fill="#F0AABA" text-anchor="middle">40</text>
<text x="118.50" y="263.30" font-size="7.2" fill="#4682BA" text-anchor="middle">0</text>
<line x1="118.50" y1="380.00" x2="118.50" y2="383.20" stroke="#333" stroke-width="1.0"/>
<text x="121.70" y="390.00" font-size="8.0" fill="#262626" text-anchor="end" transform="rotate(-45 121.70 390.00)">B-ALL</text>
<rect x="138.50" y="360.32" width="32.00" height="13.68" fill="#F29FAE"/>
<rect x="138.50" y="373.24" width="32.00" height="0.76" fill="#2474B5"/>
<text x="154.50" y="249.00" font-size="7.2" fill="#F0AABA" text-anchor="middle">17</text>
<text x="154.50" y="263.30" font-size="7.2" fill="#4682BA" text-anchor="middle">1</text>
<line x1="154.50" y1="380.00" x2="154.50" y2="383.20" stroke="#333" stroke-width="1.0"/>
<text x="157.70" y="390.00" font-size="8.0" fill="#262626" text-anchor="end" transform="rotate(-45 157.70 390.00)">APL</text>
<rect x="174.50" y="364.12" width="32.00" height="9.88" fill="#F29FAE"/>
<rect x="174.50" y="373.24" width="32.00" height="0.76" fill="#2474B5"/>
<text x="190.50" y="249.00" font-size="7.2" fill="#F0AABA" text-anchor="middle">12</text>
<text x="190.50" y="263.30" font-size="7.2" fill="#4682BA" text-anchor="middle">1</text>
<line x1="190.50" y1="380.00" x2="190.50" y2="383.20" stroke="#333" stroke-width="1.0"/>
<text x="193.70" y="390.00" font-size="8.0" fill="#262626" text-anchor="end" transform="rotate(-45 193.70 390.00)">CLL</text>
<rect x="210.50" y="373.24" width="32.00" height="0.76" fill="#F29FAE"/>
<text x="226.50" y="249.00" font-size="7.2" fill="#F0AABA" text-anchor="middle">1</text>
<text x="226.50" y="263.30" font-size="7.2" fill="#4682BA" text-anchor="middle">0</text>
<line x1="226.50" y1="380.00" x2="226.50" y2="383.20" stroke="#333" stroke-width="1.0"/>
<text x="229.70" y="390.00" font-size="8.0" fill="#262626" text-anchor="end" transform="rotate(-45 229.70 390.00)">CML</text>
<line x1="25.30" y1="238.00" x2="25.30" y2="380.50" stroke="#222" stroke-width="1.1"/>
<line x1="24.80" y1="380.00" x2="247.50" y2="380.00" stroke="#222" stroke-width="1.1"/>
<line x1="22.10" y1="375.50" x2="25.30" y2="375.50" stroke="#222" stroke-width="1.0"/>
<text x="19.80" y="378.60" font-size="8.7" fill="#262626" text-anchor="end">0</text>
<line x1="22.10" y1="337.50" x2="25.30" y2="337.50" stroke="#222" stroke-width="1.0"/>
<text x="19.80" y="340.60" font-size="8.7" fill="#262626" text-anchor="end">50</text>
<line x1="22.10" y1="299.50" x2="25.30" y2="299.50" stroke="#222" stroke-width="1.0"/>
<text x="19.80" y="302.60" font-size="8.7" fill="#262626" text-anchor="end">100</text>
<line x1="22.10" y1="261.50" x2="25.30" y2="261.50" stroke="#222" stroke-width="1.0"/>
<text x="19.80" y="264.60" font-size="8.7" fill="#262626" text-anchor="end">150</text>
<rect x="194.50" y="283.30" width="9.30" height="8.50" fill="#F29FAE"/>
<rect x="194.50" y="295.50" width="9.30" height="8.30" fill="#2474B5"/>
<text x="207.00" y="290.20" font-size="7.3" fill="#262626" text-anchor="start">SEG_high</text>
<text x="207.00" y="302.20" font-size="7.3" fill="#262626" text-anchor="start">SEG_low</text>
<text x="268.60" y="231.60" font-size="11.5" fill="#000" text-anchor="start" font-weight="bold">C</text>
<rect x="310.00" y="366.23" width="26.40" height="8.97" fill="#1EA03E"/>
<text x="323.20" y="242.20" font-size="7.5" fill="#222" text-anchor="middle">23</text>
<line x1="323.20" y1="379.80" x2="323.20" y2="383.00" stroke="#333" stroke-width="1.0"/>
<text x="326.40" y="390.00" font-size="8.0" fill="#262626" text-anchor="end" transform="rotate(-45 326.40 390.00)">AML</text>
<rect x="339.85" y="372.08" width="26.40" height="3.12" fill="#858585"/>
<text x="353.05" y="242.20" font-size="7.5" fill="#222" text-anchor="middle">8</text>
<line x1="353.05" y1="379.80" x2="353.05" y2="383.00" stroke="#333" stroke-width="1.0"/>
<text x="356.25" y="390.00" font-size="8.0" fill="#262626" text-anchor="end" transform="rotate(-45 356.25 390.00)">aCML</text>
<rect x="369.70" y="373.25" width="26.40" height="1.95" fill="#8A8A8A"/>
<text x="382.90" y="242.20" font-size="7.5" fill="#222" text-anchor="middle">5</text>
<line x1="382.90" y1="379.80" x2="382.90" y2="383.00" stroke="#333" stroke-width="1.0"/>
<text x="386.10" y="390.00" font-size="8.0" fill="#262626" text-anchor="end" transform="rotate(-45 386.10 390.00)">B-ALL</text>
<rect x="399.55" y="280.04" width="26.40" height="95.16" fill="#BFBB10"/>
<text x="412.75" y="242.20" font-size="7.5" fill="#222" text-anchor="middle">244</text>
<line x1="412.75" y1="379.80" x2="412.75" y2="383.00" stroke="#333" stroke-width="1.0"/>
<text x="415.95" y="390.00" font-size="8.0" fill="#262626" text-anchor="end" transform="rotate(-45 415.95 390.00)">CLL</text>
<rect x="429.40" y="364.67" width="26.40" height="10.53" fill="#1C78C0"/>
<text x="442.60" y="242.20" font-size="7.5" fill="#222" text-anchor="middle">27</text>
<line x1="442.60" y1="379.80" x2="442.60" y2="383.00" stroke="#333" stroke-width="1.0"/>
<text x="445.80" y="390.00" font-size="8.0" fill="#262626" text-anchor="end" transform="rotate(-45 445.80 390.00)">CML</text>
<rect x="459.25" y="359.99" width="26.40" height="15.21" fill="#A2594C"/>
<text x="472.45" y="242.20" font-size="7.5" fill="#222" text-anchor="middle">39</text>
<line x1="472.45" y1="379.80" x2="472.45" y2="383.00" stroke="#333" stroke-width="1.0"/>
<text x="475.65" y="390.00" font-size="8.0" fill="#262626" text-anchor="end" transform="rotate(-45 475.65 390.00)">Pre-B ALL</text>
<rect x="489.10" y="273.30" width="26.40" height="101.90" fill="#E31D24"/>
<rect x="489.10" y="246.51" width="26.40" height="14.09" fill="#E31D24"/>
<text x="502.30" y="242.20" font-size="7.5" fill="#222" text-anchor="middle">1342</text>
<line x1="502.30" y1="379.80" x2="502.30" y2="383.00" stroke="#333" stroke-width="1.0"/>
<text x="505.50" y="390.00" font-size="8.0" fill="#262626" text-anchor="end" transform="rotate(-45 505.50 390.00)">T-ALL</text>
<line x1="305.70" y1="238.00" x2="305.70" y2="261.20" stroke="#222" stroke-width="1.1"/>
<line x1="305.70" y1="273.30" x2="305.70" y2="380.30" stroke="#222" stroke-width="1.1"/>
<line x1="305.20" y1="379.80" x2="520.00" y2="379.80" stroke="#222" stroke-width="1.1"/>
<line x1="302.50" y1="240.00" x2="305.70" y2="240.00" stroke="#222" stroke-width="1.0"/>
<text x="300.00" y="243.10" font-size="8.7" fill="#262626" text-anchor="end">1500</text>
<line x1="302.50" y1="260.70" x2="305.70" y2="260.70" stroke="#222" stroke-width="1.0"/>
<text x="300.00" y="263.80" font-size="8.7" fill="#262626" text-anchor="end">1000</text>
<line x1="302.50" y1="377.50" x2="305.70" y2="377.50" stroke="#222" stroke-width="1.0"/>
<text x="300.00" y="380.60" font-size="8.7" fill="#262626" text-anchor="end">0</text>
<line x1="302.50" y1="358.00" x2="305.70" y2="358.00" stroke="#222" stroke-width="1.0"/>
<text x="300.00" y="361.10" font-size="8.7" fill="#262626" text-anchor="end">50</text>
<line x1="302.50" y1="338.50" x2="305.70" y2="338.50" stroke="#222" stroke-width="1.0"/>
<text x="300.00" y="341.60" font-size="8.7" fill="#262626" text-anchor="end">100</text>
<line x1="302.50" y1="319.00" x2="305.70" y2="319.00" stroke="#222" stroke-width="1.0"/>
<text x="300.00" y="322.10" font-size="8.7" fill="#262626" text-anchor="end">150</text>
<line x1="302.50" y1="299.50" x2="305.70" y2="299.50" stroke="#222" stroke-width="1.0"/>
<text x="300.00" y="302.60" font-size="8.7" fill="#262626" text-anchor="end">200</text>
<line x1="302.50" y1="280.00" x2="305.70" y2="280.00" stroke="#222" stroke-width="1.0"/>
<text x="300.00" y="283.10" font-size="8.7" fill="#262626" text-anchor="end">250</text>
<text x="5.00" y="444.50" font-size="11.8" fill="#000" text-anchor="start" font-weight="bold">D</text>
<rect x="27.60" y="560.70" width="14.00" height="1.00" fill="#5ABCD6" opacity="0.68"/>
<text x="37.30" y="467.30" font-size="7.8" fill="#222" text-anchor="middle" transform="rotate(-90 37.30 467.30)">8</text>
<line x1="34.60" y1="566.30" x2="34.60" y2="569.70" stroke="#333" stroke-width="1.0"/>
<text x="37.50" y="572.60" font-size="8.3" fill="#262626" text-anchor="end" transform="rotate(-90 37.50 572.60)">UT-7</text>
<rect x="43.30" y="541.82" width="14.00" height="19.88" fill="#EF7A10"/>
<text x="53.00" y="467.30" font-size="7.8" fill="#222" text-anchor="middle" transform="rotate(-90 53.00 467.30)">235</text>
<line x1="50.30" y1="566.30" x2="50.30" y2="569.70" stroke="#333" stroke-width="1.0"/>
<text x="53.20" y="572.60" font-size="8.3" fill="#262626" text-anchor="end" transform="rotate(-90 53.20 572.60)">U937</text>
<rect x="59.00" y="560.52" width="14.00" height="1.18" fill="#EF7A10"/>
<text x="68.70" y="467.30" font-size="7.8" fill="#222" text-anchor="middle" transform="rotate(-90 68.70 467.30)">14</text>
<line x1="66.00" y1="566.30" x2="66.00" y2="569.70" stroke="#333" stroke-width="1.0"/>
<text x="68.90" y="572.60" font-size="8.3" fill="#262626" text-anchor="end" transform="rotate(-90 68.90 572.60)">ML-2</text>
<rect x="74.70" y="560.70" width="14.00" height="1.00" fill="#EF7A10" opacity="0.22"/>
<text x="84.40" y="467.30" font-size="7.8" fill="#222" text-anchor="middle" transform="rotate(-90 84.40 467.30)">2</text>
<line x1="81.70" y1="566.30" x2="81.70" y2="569.70" stroke="#333" stroke-width="1.0"/>
<text x="84.60" y="572.60" font-size="8.3" fill="#262626" text-anchor="end" transform="rotate(-90 84.60 572.60)">MV4-11</text>
<rect x="90.40" y="560.70" width="14.00" height="1.00" fill="#EF7A10" opacity="0.22"/>
<text x="100.10" y="467.30" font-size="7.8" fill="#222" text-anchor="middle" transform="rotate(-90 100.10 467.30)">2</text>
<line x1="97.40" y1="566.30" x2="97.40" y2="569.70" stroke="#333" stroke-width="1.0"/>
<text x="100.30" y="572.60" font-size="8.3" fill="#262626" text-anchor="end" transform="rotate(-90 100.30 572.60)">NOMO-1</text>
<rect x="106.10" y="560.70" width="14.00" height="1.00" fill="#EF7A10" opacity="0.22"/>
<text x="115.80" y="467.30" font-size="7.8" fill="#222" text-anchor="middle" transform="rotate(-90 115.80 467.30)">2</text>
<line x1="113.10" y1="566.30" x2="113.10" y2="569.70" stroke="#333" stroke-width="1.0"/>
<text x="116.00" y="572.60" font-size="8.3" fill="#262626" text-anchor="end" transform="rotate(-90 116.00 572.60)">THP-1</text>
<rect x="121.80" y="560.35" width="14.00" height="1.35" fill="#1E9E48"/>
<text x="131.50" y="467.30" font-size="7.8" fill="#222" text-anchor="middle" transform="rotate(-90 131.50 467.30)">16</text>
<line x1="128.80" y1="566.30" x2="128.80" y2="569.70" stroke="#333" stroke-width="1.0"/>
<text x="131.70" y="572.60" font-size="8.3" fill="#262626" text-anchor="end" transform="rotate(-90 131.70 572.60)">KG1</text>
<rect x="137.50" y="560.70" width="14.00" height="1.00" fill="#1E9E48" opacity="0.25"/>
<text x="147.20" y="467.30" font-size="7.8" fill="#222" text-anchor="middle" transform="rotate(-90 147.20 467.30)">3</text>
<line x1="144.50" y1="566.30" x2="144.50" y2="569.70" stroke="#333" stroke-width="1.0"/>
<text x="147.40" y="572.60" font-size="8.3" fill="#262626" text-anchor="end" transform="rotate(-90 147.40 572.60)">KASUMI-1</text>
<rect x="153.20" y="560.70" width="14.00" height="1.00" fill="#1E9E48" opacity="0.22"/>
<text x="162.90" y="467.30" font-size="7.8" fill="#222" text-anchor="middle" transform="rotate(-90 162.90 467.30)">2</text>
<line x1="160.20" y1="566.30" x2="160.20" y2="569.70" stroke="#333" stroke-width="1.0"/>
<text x="163.10" y="572.60" font-size="8.3" fill="#262626" text-anchor="end" transform="rotate(-90 163.10 572.60)">OCI-AML3</text>
<rect x="168.90" y="560.70" width="14.00" height="1.00" fill="#1E9E48" opacity="0.22"/>
<text x="178.60" y="467.30" font-size="7.8" fill="#222" text-anchor="middle" transform="rotate(-90 178.60 467.30)">1</text>
<line x1="175.90" y1="566.30" x2="175.90" y2="569.70" stroke="#333" stroke-width="1.0"/>
<text x="178.80" y="572.60" font-size="8.3" fill="#262626" text-anchor="end" transform="rotate(-90 178.80 572.60)">MOLM-14</text>
<rect x="184.60" y="560.70" width="14.00" height="1.00" fill="#A090D8" opacity="0.25"/>
<text x="194.30" y="467.30" font-size="7.8" fill="#222" text-anchor="middle" transform="rotate(-90 194.30 467.30)">3</text>
<line x1="191.60" y1="566.30" x2="191.60" y2="569.70" stroke="#333" stroke-width="1.0"/>
<text x="194.50" y="572.60" font-size="8.3" fill="#262626" text-anchor="end" transform="rotate(-90 194.50 572.60)">NB4</text>
<rect x="200.30" y="560.70" width="14.00" height="1.00" fill="#8C74CC" opacity="0.22"/>
<text x="210.00" y="467.30" font-size="7.8" fill="#222" text-anchor="middle" transform="rotate(-90 210.00 467.30)">1</text>
<line x1="207.30" y1="566.30" x2="207.30" y2="569.70" stroke="#333" stroke-width="1.0"/>
<text x="210.20" y="572.60" font-size="8.3" fill="#262626" text-anchor="end" transform="rotate(-90 210.20 572.60)">HL-60/S4</text>
<rect x="216.00" y="494.70" width="14.00" height="67.00" fill="#808080"/>
<text x="225.70" y="467.30" font-size="7.8" fill="#222" text-anchor="middle" transform="rotate(-90 225.70 467.30)">792</text>
<line x1="223.00" y1="566.30" x2="223.00" y2="569.70" stroke="#333" stroke-width="1.0"/>
<text x="225.90" y="572.60" font-size="8.3" fill="#262626" text-anchor="end" transform="rotate(-90 225.90 572.60)">697</text>
<rect x="231.70" y="513.39" width="14.00" height="48.31" fill="#808080"/>
<text x="241.40" y="467.30" font-size="7.8" fill="#222" text-anchor="middle" transform="rotate(-90 241.40 467.30)">571</text>
<line x1="238.70" y1="566.30" x2="238.70" y2="569.70" stroke="#333" stroke-width="1.0"/>
<text x="241.60" y="572.60" font-size="8.3" fill="#262626" text-anchor="end" transform="rotate(-90 241.60 572.60)">RCH-ACV</text>
<rect x="247.40" y="560.70" width="14.00" height="1.00" fill="#CFCB4C" opacity="0.22"/>
<text x="257.10" y="467.30" font-size="7.8" fill="#222" text-anchor="middle" transform="rotate(-90 257.10 467.30)">2</text>
<line x1="254.40" y1="566.30" x2="254.40" y2="569.70" stroke="#333" stroke-width="1.0"/>
<text x="257.30" y="572.60" font-size="8.3" fill="#262626" text-anchor="end" transform="rotate(-90 257.30 572.60)">MO1043</text>
<rect x="263.10" y="557.55" width="14.00" height="4.15" fill="#1C70B2"/>
<text x="272.80" y="467.30" font-size="7.8" fill="#222" text-anchor="middle" transform="rotate(-90 272.80 467.30)">49</text>
<line x1="270.10" y1="566.30" x2="270.10" y2="569.70" stroke="#333" stroke-width="1.0"/>
<text x="273.00" y="572.60" font-size="8.3" fill="#262626" text-anchor="end" transform="rotate(-90 273.00 572.60)">MEG-01</text>
<rect x="278.80" y="558.32" width="14.00" height="3.38" fill="#1C70B2"/>
<text x="288.50" y="467.30" font-size="7.8" fill="#222" text-anchor="middle" transform="rotate(-90 288.50 467.30)">40</text>
<line x1="285.80" y1="566.30" x2="285.80" y2="569.70" stroke="#333" stroke-width="1.0"/>
<text x="288.70" y="572.60" font-size="8.3" fill="#262626" text-anchor="end" transform="rotate(-90 288.70 572.60)">HAP-1</text>
<rect x="294.50" y="560.43" width="14.00" height="1.27" fill="#1C70B2"/>
<text x="304.20" y="467.30" font-size="7.8" fill="#222" text-anchor="middle" transform="rotate(-90 304.20 467.30)">15</text>
<line x1="301.50" y1="566.30" x2="301.50" y2="569.70" stroke="#333" stroke-width="1.0"/>
<text x="304.40" y="572.60" font-size="8.3" fill="#262626" text-anchor="end" transform="rotate(-90 304.40 572.60)">KBM7</text>
<rect x="310.20" y="560.70" width="14.00" height="1.00" fill="#3A8ED4" opacity="0.59"/>
<text x="319.90" y="467.30" font-size="7.8" fill="#222" text-anchor="middle" transform="rotate(-90 319.90 467.30)">7</text>
<line x1="317.20" y1="566.30" x2="317.20" y2="569.70" stroke="#333" stroke-width="1.0"/>
<text x="320.10" y="572.60" font-size="8.3" fill="#262626" text-anchor="end" transform="rotate(-90 320.10 572.60)">K562</text>
<rect x="325.90" y="560.70" width="14.00" height="1.00" fill="#3A8ED4" opacity="0.59"/>
<text x="335.60" y="467.30" font-size="7.8" fill="#222" text-anchor="middle" transform="rotate(-90 335.60 467.30)">7</text>
<line x1="332.90" y1="566.30" x2="332.90" y2="569.70" stroke="#333" stroke-width="1.0"/>
<text x="335.80" y="572.60" font-size="8.3" fill="#262626" text-anchor="end" transform="rotate(-90 335.80 572.60)">KCL-22</text>
<rect x="341.60" y="560.70" width="14.00" height="1.00" fill="#EFB0A0" opacity="0.25"/>
<text x="351.30" y="467.30" font-size="7.8" fill="#222" text-anchor="middle" transform="rotate(-90 351.30 467.30)">3</text>
<line x1="348.60" y1="566.30" x2="348.60" y2="569.70" stroke="#333" stroke-width="1.0"/>
<text x="351.50" y="572.60" font-size="8.3" fill="#262626" text-anchor="end" transform="rotate(-90 351.50 572.60)">JJN3</text>
<rect x="357.30" y="455.10" width="14.00" height="106.60" fill="#9C5048"/>
<text x="367.00" y="467.30" font-size="7.8" fill="#fff" text-anchor="middle" transform="rotate(-90 367.00 467.30)">1260</text>
<line x1="364.30" y1="566.30" x2="364.30" y2="569.70" stroke="#333" stroke-width="1.0"/>
<text x="367.20" y="572.60" font-size="8.3" fill="#262626" text-anchor="end" transform="rotate(-90 367.20 572.60)">REH</text>
<rect x="373.00" y="555.27" width="14.00" height="6.43" fill="#9C5048"/>
<text x="382.70" y="467.30" font-size="7.8" fill="#222" text-anchor="middle" transform="rotate(-90 382.70 467.30)">76</text>
<line x1="380.00" y1="566.30" x2="380.00" y2="569.70" stroke="#333" stroke-width="1.0"/>
<text x="382.90" y="572.60" font-size="8.3" fill="#262626" text-anchor="end" transform="rotate(-90 382.90 572.60)">NALM-6</text>
<rect x="388.70" y="560.70" width="14.00" height="1.00" fill="#E9A0C8" opacity="0.22"/>
<text x="398.40" y="467.30" font-size="7.8" fill="#222" text-anchor="middle" transform="rotate(-90 398.40 467.30)">2</text>
<line x1="395.70" y1="566.30" x2="395.70" y2="569.70" stroke="#333" stroke-width="1.0"/>
<text x="398.60" y="572.60" font-size="8.3" fill="#262626" text-anchor="end" transform="rotate(-90 398.60 572.60)">SEM</text>
<rect x="404.40" y="527.44" width="14.00" height="34.26" fill="#E31D24"/>
<text x="414.10" y="467.30" font-size="7.8" fill="#222" text-anchor="middle" transform="rotate(-90 414.10 467.30)">405</text>
<line x1="411.40" y1="566.30" x2="411.40" y2="569.70" stroke="#333" stroke-width="1.0"/>
<text x="414.30" y="572.60" font-size="8.3" fill="#262626" text-anchor="end" transform="rotate(-90 414.30 572.60)">HPB-ALL</text>
<rect x="420.10" y="543.93" width="14.00" height="17.77" fill="#E31D24"/>
<text x="429.80" y="467.30" font-size="7.8" fill="#222" text-anchor="middle" transform="rotate(-90 429.80 467.30)">210</text>
<line x1="427.10" y1="566.30" x2="427.10" y2="569.70" stroke="#333" stroke-width="1.0"/>
<text x="430.00" y="572.60" font-size="8.3" fill="#262626" text-anchor="end" transform="rotate(-90 430.00 572.60)">KOPTK1</text>
<rect x="435.80" y="556.03" width="14.00" height="5.67" fill="#E31D24"/>
<text x="445.50" y="467.30" font-size="7.8" fill="#222" text-anchor="middle" transform="rotate(-90 445.50 467.30)">67</text>
<line x1="442.80" y1="566.30" x2="442.80" y2="569.70" stroke="#333" stroke-width="1.0"/>
<text x="445.70" y="572.60" font-size="8.3" fill="#262626" text-anchor="end" transform="rotate(-90 445.70 572.60)">CUTLL1</text>
<rect x="451.50" y="560.60" width="14.00" height="1.10" fill="#E31D24"/>
<text x="461.20" y="467.30" font-size="7.8" fill="#222" text-anchor="middle" transform="rotate(-90 461.20 467.30)">13</text>
<line x1="458.50" y1="566.30" x2="458.50" y2="569.70" stroke="#333" stroke-width="1.0"/>
<text x="461.40" y="572.60" font-size="8.3" fill="#262626" text-anchor="end" transform="rotate(-90 461.40 572.60)">CCRF-CEM</text>
<rect x="467.20" y="560.70" width="14.00" height="1.00" fill="#E31D24" opacity="0.51"/>
<text x="476.90" y="467.30" font-size="7.8" fill="#222" text-anchor="middle" transform="rotate(-90 476.90 467.30)">6</text>
<line x1="474.20" y1="566.30" x2="474.20" y2="569.70" stroke="#333" stroke-width="1.0"/>
<text x="477.10" y="572.60" font-size="7.3" fill="#262626" text-anchor="end" transform="rotate(-90 477.10 572.60)">Jurkat E6.1</text>
<rect x="482.90" y="560.70" width="14.00" height="1.00" fill="#E31D24" opacity="0.22"/>
<text x="492.60" y="467.30" font-size="7.8" fill="#222" text-anchor="middle" transform="rotate(-90 492.60 467.30)">1</text>
<line x1="489.90" y1="566.30" x2="489.90" y2="569.70" stroke="#333" stroke-width="1.0"/>
<text x="492.80" y="572.60" font-size="8.3" fill="#262626" text-anchor="end" transform="rotate(-90 492.80 572.60)">ALL-SIL</text>
<rect x="498.60" y="560.70" width="14.00" height="1.00" fill="#E31D24" opacity="0.22"/>
<text x="508.30" y="467.30" font-size="7.8" fill="#222" text-anchor="middle" transform="rotate(-90 508.30 467.30)">1</text>
<line x1="505.60" y1="566.30" x2="505.60" y2="569.70" stroke="#333" stroke-width="1.0"/>
<text x="508.50" y="572.60" font-size="8.3" fill="#262626" text-anchor="end" transform="rotate(-90 508.50 572.60)">CEM</text>
<line x1="25.20" y1="450.20" x2="25.20" y2="566.80" stroke="#222" stroke-width="1.1"/>
<line x1="24.70" y1="566.30" x2="514.60" y2="566.30" stroke="#222" stroke-width="1.1"/>
<line x1="22.00" y1="561.70" x2="25.20" y2="561.70" stroke="#222" stroke-width="1.0"/>
<text x="19.50" y="564.80" font-size="8.7" fill="#262626" text-anchor="end">0</text>
<line x1="22.00" y1="519.40" x2="25.20" y2="519.40" stroke="#222" stroke-width="1.0"/>
<text x="19.50" y="522.50" font-size="8.7" fill="#262626" text-anchor="end">500</text>
<line x1="22.00" y1="477.10" x2="25.20" y2="477.10" stroke="#222" stroke-width="1.0"/>
<text x="19.50" y="480.20" font-size="8.7" fill="#262626" text-anchor="end">1000</text>
</svg>
</body></html>
